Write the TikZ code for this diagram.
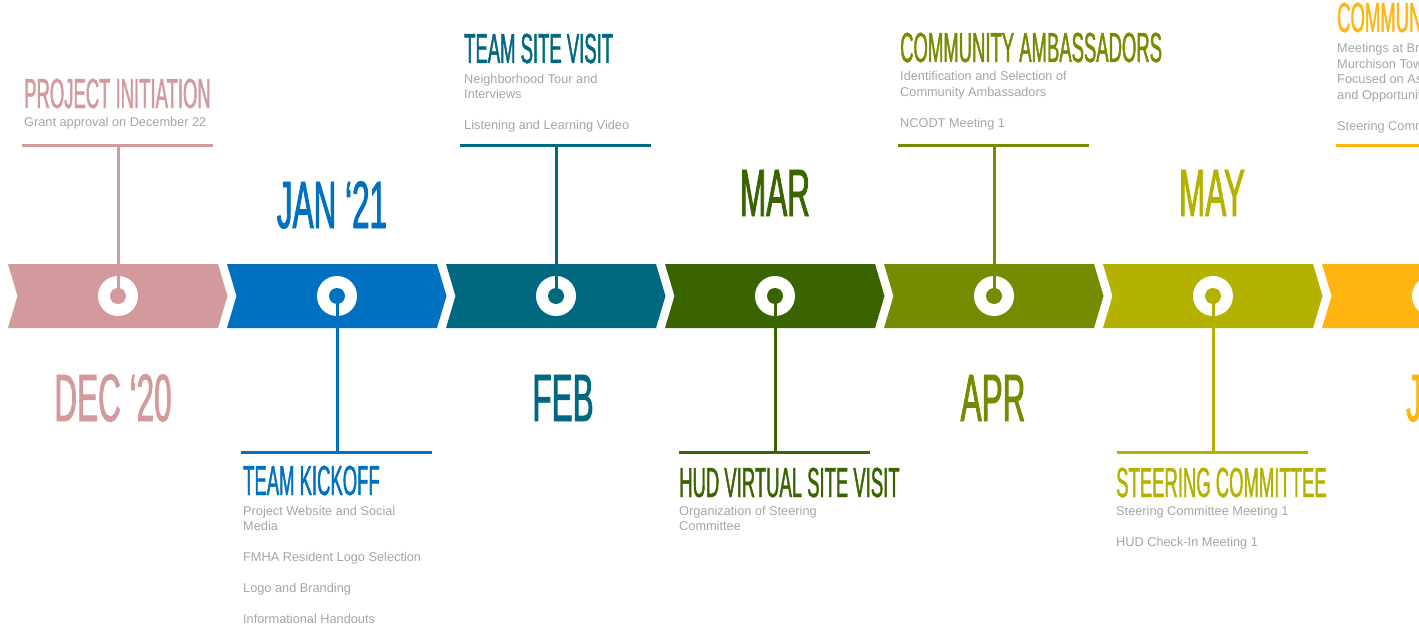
\documentclass[tikz,border=0pt]{standalone}
\usepackage{fontspec}
\setmainfont{Liberation Sans}
\newfontfamily\headfont{Liberation Sans}[FakeStretch=0.44,FakeBold=1]
\newfontfamily\monthfont{Liberation Sans}[FakeStretch=0.47,FakeBold=1.2]
\definecolor{cpink}{HTML}{D39A9E}
\definecolor{cblue}{HTML}{0070C0}
\definecolor{cteal}{HTML}{00687F}
\definecolor{cdkgreen}{HTML}{3A6400}
\definecolor{colive}{HTML}{758B00}
\definecolor{cyolive}{HTML}{B4B200}
\definecolor{corange}{HTML}{FFB511}
\definecolor{txtgray}{HTML}{A5A5A5}
\begin{document}
\begin{tikzpicture}[x=1pt,y=-1pt,
  head/.style={anchor=base west,inner sep=0pt,font=\headfont\fontsize{42}{42}\selectfont},
  month/.style={anchor=base,inner sep=0pt,font=\monthfont\fontsize{67}{67}\selectfont},
  desc/.style={anchor=base west,inner sep=0pt,text=txtgray,font=\fontsize{12.75}{15.5}\selectfont},
  stem/.style={line width=3pt},
  ring/.style={circle,fill=white,minimum size=40pt,inner sep=0pt},
  dot/.style={circle,minimum size=16pt,inner sep=0pt}]
\useasboundingbox (0,0) rectangle (1419,626);
\clip (0,0) rectangle (1419,626);

% chevron band
\foreach \i/\c in {0/cpink,1/cblue,2/cteal,3/cdkgreen,4/colive,5/cyolive,6/corange}{
  \fill[\c] ({8+219*\i},264) -- ++(210,0) -- ++(9.5,32) -- ++(-9.5,32) -- ++(-210,0) -- ++(9.5,-32) -- cycle;
  \node[ring] (ring\i) at ({118+219*\i},296) {};
  \node[dot,fill=\c] (dot\i) at ({118+219*\i},296) {};
}

% top connectors
\foreach \i/\c in {0/cpink,2/cteal,4/colive,6/corange}{
  \coordinate (bar\i) at ({118+219*\i},145);
  \coordinate (bar\i l) at ({22+219*\i},145);
  \coordinate (bar\i r) at ({213+219*\i},145);
  \draw[stem,\c] (bar\i l) -- (bar\i r);
  \draw[stem,\c] (bar\i) -- (dot\i.center);
}
% bottom connectors
\foreach \i/\c in {1/cblue,3/cdkgreen,5/cyolive}{
  \coordinate (bar\i) at ({118+219*\i},452);
  \coordinate (bar\i l) at ({22+219*\i},452);
  \coordinate (bar\i r) at ({213+219*\i},452);
  \draw[stem,\c] (bar\i l) -- (bar\i r);
  \draw[stem,\c] (bar\i) -- (dot\i.center);
}

% months
\node[month,text=cpink] (m0) at (113,421) {DEC ‘20};
\node[month,text=cblue] (m1) at (332,228) {JAN ‘21};
\node[month,text=cteal] (m2) at (563,421) {FEB};
\node[month,text=cdkgreen] (m3) at (775,216) {MAR};
\node[month,text=colive] (m4) at (993,421) {APR};
\node[month,text=cyolive] (m5) at (1212,216) {MAY};
\node[month,text=corange,anchor=base west] (m6) at (1406,421) {JUN};

% top entries
\node[head,text=cpink] (h0) at (24,108) {PROJECT INITIATION};
\node[desc] (d0) at (24,126) {\vtop{\hbox{Grant approval on December 22}}};

\node[head,text=cteal] (h2) at (464,63) {TEAM SITE VISIT};
\node[desc] (d2) at (464,83) {\vtop{\hbox{Neighborhood Tour and}\hbox{Interviews}\hbox{}\hbox{Listening and Learning Video}}};

\node[head,text=colive] (h4) at (900,62) {COMMUNITY AMBASSADORS};
\node[desc] (d4) at (900,81) {\vtop{\hbox{Identification and Selection of}\hbox{Community Ambassadors}\hbox{}\hbox{NCODT Meeting 1}}};

\node[head,text=corange] (h6) at (1337,32) {COMMUNITY MEETINGS};
\node[desc] (d6) at (1337,53) {\vtop{\hbox{Meetings at Brandon and}\hbox{Murchison Towers}\hbox{Focused on Assets}\hbox{and Opportunities}\hbox{}\hbox{Steering Committee Meeting 2}}};

% bottom entries
\node[head,text=cblue] (h1) at (243,495) {TEAM KICKOFF};
\node[desc] (d1) at (243,515) {\vtop{\hbox{Project Website and Social}\hbox{Media}\hbox{}\hbox{FMHA Resident Logo Selection}\hbox{}\hbox{Logo and Branding}\hbox{}\hbox{Informational Handouts}}};

\node[head,text=cdkgreen] (h3) at (679,497) {HUD VIRTUAL SITE VISIT};
\node[desc] (d3) at (679,515) {\vtop{\hbox{Organization of Steering}\hbox{Committee}}};

\node[head,text=cyolive] (h5) at (1116,497) {STEERING COMMITTEE};
\node[desc] (d5) at (1116,515) {\vtop{\hbox{Steering Committee Meeting 1}\hbox{}\hbox{HUD Check-In Meeting 1}}};
\end{tikzpicture}
\end{document}
